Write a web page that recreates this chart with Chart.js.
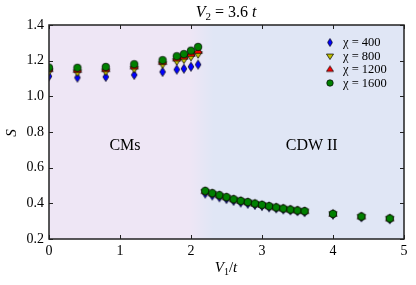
<!DOCTYPE html>
<html><head><meta charset="utf-8">
<script src="https://cdn.jsdelivr.net/npm/chart.js@4.4.1/dist/chart.umd.min.js"></script>
<style>html,body{margin:0;padding:0;background:#fff}canvas{display:block}</style>
</head><body>
<canvas id="c" width="416" height="285"></canvas>
<script>
const vOne = [0,0.4,0.8,1.2,1.6,1.8,1.9,2.0,2.1,2.2,2.3,2.4,2.5,2.6,2.7,2.8,2.9,3.0,3.1,3.2,3.3,3.4,3.5,3.6,4.0,4.4,4.8];
const s400  = [1.112,1.105,1.109,1.12,1.137,1.15,1.155,1.166,1.178,0.455,0.444,0.434,0.424,0.414,0.405,0.398,0.391,0.385,0.378,0.372,0.366,0.361,0.356,0.351,0.337,0.322,0.311];
const s800  = [1.14,1.135,1.14,1.155,1.18,1.198,1.207,1.222,1.237,0.464,0.452,0.441,0.431,0.42,0.411,0.404,0.396,0.389,0.382,0.375,0.369,0.363,0.358,0.354,0.339,0.324,0.313];
const s1200 = [1.152,1.147,1.152,1.167,1.192,1.212,1.222,1.238,1.254,0.468,0.456,0.445,0.434,0.423,0.414,0.406,0.398,0.391,0.384,0.377,0.371,0.365,0.36,0.356,0.341,0.326,0.315];
const s1600 = [1.161,1.16,1.165,1.18,1.203,1.225,1.237,1.256,1.277,0.47,0.457,0.446,0.435,0.423,0.414,0.407,0.399,0.392,0.384,0.377,0.371,0.365,0.36,0.356,0.341,0.326,0.315];
const seriesLabels = ['\u03c7 = 400','\u03c7 = 800','\u03c7 = 1200','\u03c7 = 1600'];
const xTicks = [0,1,2,3,4,5];
const yTicks = [0.2,0.4,0.6,0.8,1.0,1.2,1.4];
const regionLabels = ['CMs','CDW II'];
const regionX = [1.07, 3.7];
const boundaryX = 2.15;

const SERIF = '"Liberation Serif", "DejaVu Serif", serif';

function makeMarker(shape, fill, scale){
  const s = scale || 1;
  const W = 12, H = 12;
  const c = document.createElement('canvas'); c.width = W; c.height = H;
  const g = c.getContext('2d');
  const cx = W/2, cy = H/2;
  g.fillStyle = fill; g.strokeStyle = '#000'; g.lineWidth = 0.7;
  g.beginPath();
  if (shape==='diamond'){
    const hw=2.9*s, hh=4.6*s;
    g.moveTo(cx,cy-hh); g.lineTo(cx+hw,cy); g.lineTo(cx,cy+hh); g.lineTo(cx-hw,cy); g.closePath();
  } else if (shape==='tdown'){
    const r=4.2*s;
    g.moveTo(cx-r,cy-r*0.55); g.lineTo(cx+r,cy-r*0.55); g.lineTo(cx,cy+r); g.closePath();
  } else if (shape==='tup'){
    const r=4.2*s;
    g.moveTo(cx-r,cy+r*0.55); g.lineTo(cx+r,cy+r*0.55); g.lineTo(cx,cy-r); g.closePath();
  } else {
    g.arc(cx,cy,3.8*s,0,Math.PI*2);
  }
  g.fill(); g.stroke();
  return c;
}
const shapes = ['diamond','tdown','tup','circle'];
const fills = ['#0000ff','#bfbf00','#ff0000','#008000'];
const allSeries = [s400,s800,s1200,s1600];
const markers = shapes.map((sh,i)=>makeMarker(sh,fills[i],1));
const legendMarkers = shapes.map((sh,i)=>makeMarker(sh,fills[i],0.85));

const datasets = allSeries.map((arr,i)=>({
  label: seriesLabels[i],
  data: vOne.map((x,j)=>({x:x,y:arr[j]})),
  pointStyle: markers[i],
  pointRadius: 5,
  showLine: false,
  clip: 0,
  order: 4-i
}));

function drawTitleText(ctx, parts, cx, baseline){
  let total=0;
  parts.forEach(p=>{ctx.font=p[1]; total+=ctx.measureText(p[0]).width;});
  let x = cx-total/2;
  ctx.textAlign='left'; ctx.textBaseline='alphabetic';
  parts.forEach(p=>{ctx.font=p[1]; ctx.fillText(p[0],x,baseline+(p[2]||0)); x+=ctx.measureText(p[0]).width;});
}

const deco = {
  id:'deco',
  beforeDatasetsDraw(chart){
    const {ctx, chartArea:a, scales:{x}} = chart;
    const bx = x.getPixelForValue(boundaryX);
    ctx.save();
    const grad = ctx.createLinearGradient(bx-12,0,bx+12,0);
    grad.addColorStop(0,'rgb(238,230,245)');
    grad.addColorStop(1,'rgb(224,230,245)');
    ctx.fillStyle = grad;
    ctx.fillRect(a.left,a.top,a.right-a.left,a.bottom-a.top);
    ctx.fillStyle='#000'; ctx.font='16px '+SERIF; ctx.textAlign='center'; ctx.textBaseline='alphabetic';
    regionLabels.forEach((t,i)=>ctx.fillText(t, x.getPixelForValue(regionX[i]), 150));
    ctx.restore();
  },
  afterDraw(chart){
    const {ctx, chartArea:a, scales:{x,y}} = chart;
    ctx.save();
    ctx.strokeStyle='#222'; ctx.lineWidth=1;
    ctx.beginPath();
    xTicks.forEach(v=>{const px=Math.round(x.getPixelForValue(v))+0.5;
      ctx.moveTo(px,a.bottom); ctx.lineTo(px,a.bottom-4);
      ctx.moveTo(px,a.top); ctx.lineTo(px,a.top+4);});
    yTicks.forEach(v=>{const py=Math.round(y.getPixelForValue(v))+0.5;
      ctx.moveTo(a.left,py); ctx.lineTo(a.left+4,py);
      ctx.moveTo(a.right,py); ctx.lineTo(a.right-4,py);});
    ctx.stroke();
    ctx.lineWidth=1.5; ctx.strokeStyle='#222';
    ctx.strokeRect(a.left,a.top,a.right-a.left,a.bottom-a.top);
    ctx.fillStyle='#000';
    drawTitleText(ctx,[['V','italic 16px '+SERIF],['2','11px '+SERIF,3],[' = 3.6 ','16px '+SERIF],['t','italic 16px '+SERIF]],226,17);
    drawTitleText(ctx,[['V','italic 15px '+SERIF],['1','10px '+SERIF,3],['/','15px '+SERIF],['t','italic 15px '+SERIF]],226,272);
    ctx.save(); ctx.translate(16,133); ctx.rotate(-Math.PI/2);
    ctx.font='italic 15px '+SERIF; ctx.textAlign='center'; ctx.textBaseline='alphabetic';
    ctx.fillText('S',0,0); ctx.restore();
    ctx.font='12.5px '+SERIF; ctx.textAlign='left'; ctx.textBaseline='middle';
    seriesLabels.forEach((t,i)=>{
      const ly = 42.5 + i*13.5;
      const m = legendMarkers[i];
      ctx.drawImage(m, 330 - m.width/2, ly - m.height/2);
      ctx.fillText(t, 343, ly+0.5);
    });
    ctx.restore();
  }
};

new Chart(document.getElementById('c'), {
  type:'scatter',
  data:{datasets},
  options:{
    responsive:false, animation:false, devicePixelRatio:1,
    layout:{padding:{top:25,right:12,left:0,bottom:0}},
    plugins:{legend:{display:false},tooltip:{enabled:false},title:{display:false}},
    scales:{
      x:{type:'linear',min:0,max:5,
        afterBuildTicks(s){s.ticks=xTicks.map(v=>({value:v}));},
        afterFit(s){s.height=46;},
        grid:{display:false,drawTicks:false}, border:{display:false},
        ticks:{color:'#000',font:{family:SERIF,size:14},padding:4,maxRotation:0,autoSkip:false,callback:v=>String(v)}},
      y:{type:'linear',min:0.2,max:1.4,
        afterBuildTicks(s){s.ticks=yTicks.map(v=>({value:v}));},
        afterFit(s){s.width=49;},
        grid:{display:false,drawTicks:false}, border:{display:false},
        ticks:{color:'#000',font:{family:SERIF,size:14},padding:5,autoSkip:false,callback:v=>Number(v).toFixed(1)}}
    }
  },
  plugins:[deco]
});
</script>
</body></html>
